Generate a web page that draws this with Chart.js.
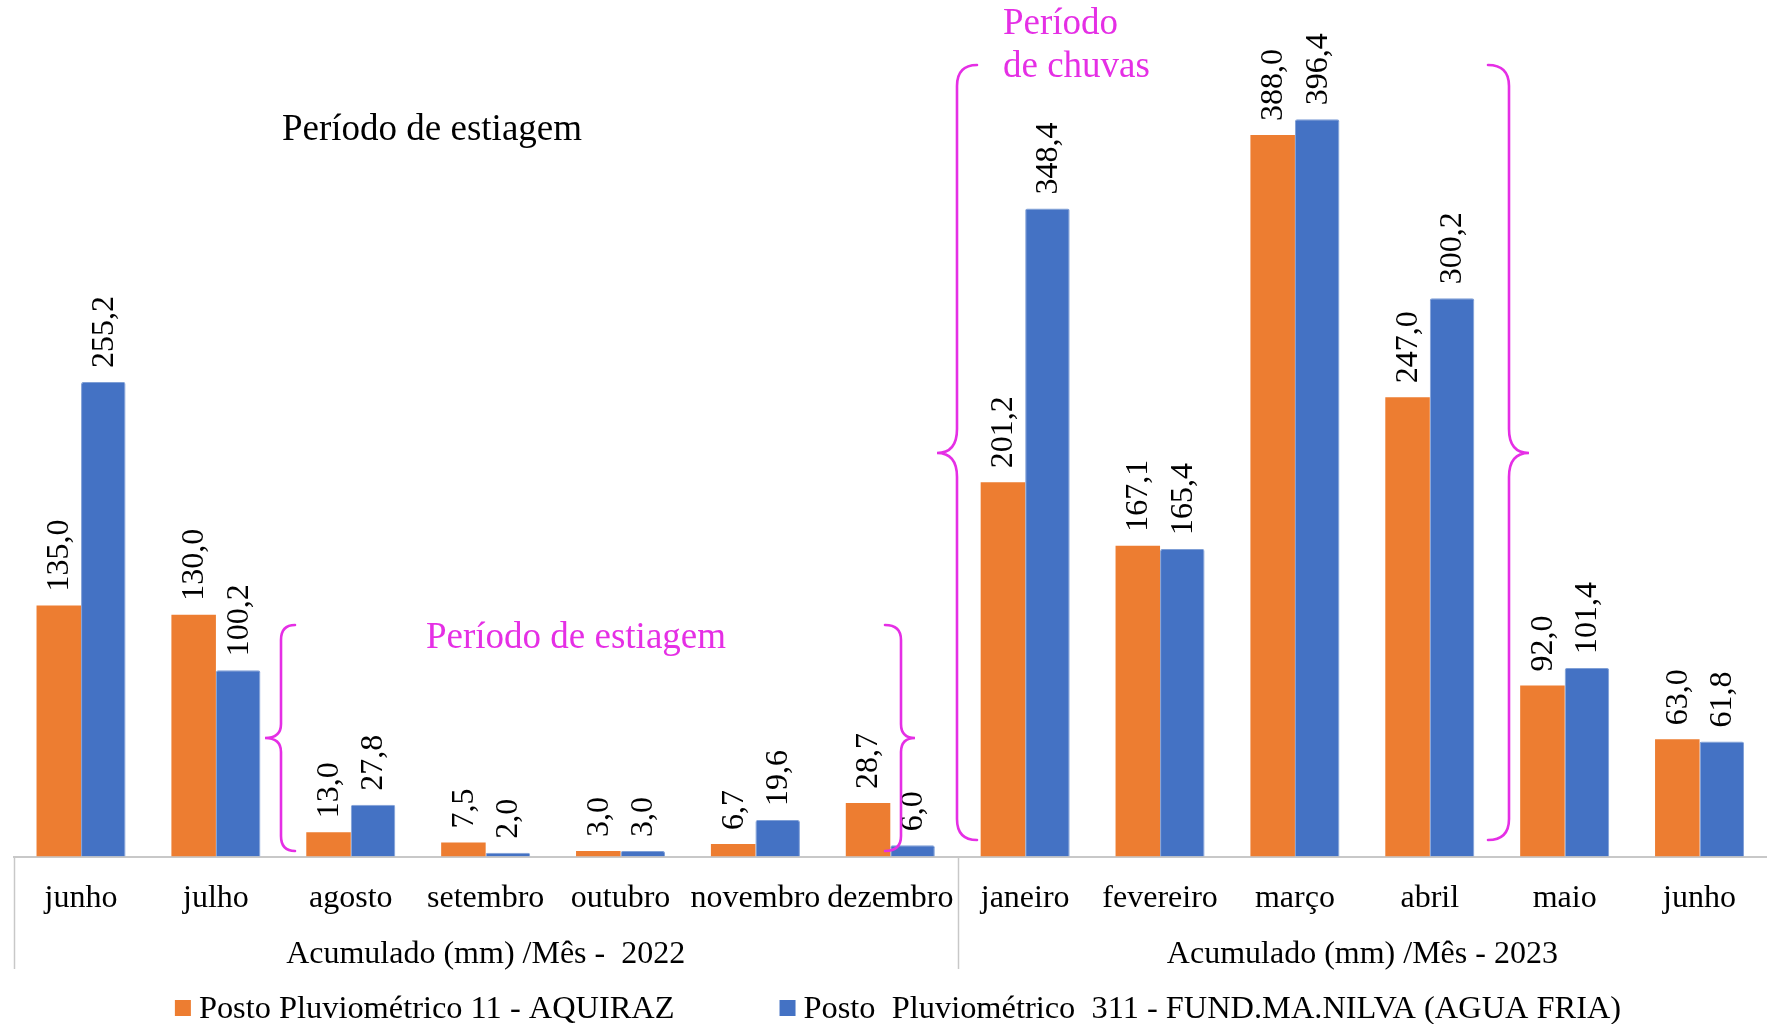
<!DOCTYPE html>
<html>
<head>
<meta charset="utf-8">
<script src="https://cdn.jsdelivr.net/npm/chart.js@4.4.1/dist/chart.umd.min.js"></script>
<style>
  html, body { margin: 0; padding: 0; background: #ffffff; }
  #wrap { width: 1767px; height: 1024px; position: relative; }
</style>
</head>
<body>
<div id="wrap"><canvas id="chart" width="1767" height="1024"></canvas></div>
<script>
// Monthly accumulated rainfall (mm), June 2022 – June 2023
const months = ['junho', 'julho', 'agosto', 'setembro', 'outubro', 'novembro', 'dezembro',
                'janeiro', 'fevereiro', 'março', 'abril', 'maio', 'junho'];
const yearGroups = ['Acumulado (mm) /Mês -  2022', 'Acumulado (mm) /Mês - 2023'];
const yearGroupSizes = [7, 6];
const seriesNames = ['Posto Pluviométrico 11 - AQUIRAZ',
                     'Posto  Pluviométrico  311 - FUND.MA.NILVA (AGUA FRIA)'];
const aquiraz  = [135.0, 130.0, 13.0, 7.5, 3.0, 6.7, 28.7, 201.2, 167.1, 388.0, 247.0, 92.0, 63.0];
const aguaFria = [255.2, 100.2, 27.8, 2.0, 3.0, 19.6, 6.0, 348.4, 165.4, 396.4, 300.2, 101.4, 61.8];

const SERIF = "'Liberation Serif', 'Times New Roman', serif";
const ORANGE = '#ED7D31';
const BLUE = '#4472C4';
const MAGENTA = '#E52FE5';
const AXIS_GREY = '#C8C8C8';

function fmt(v) { return v.toFixed(1).replace('.', ','); }

// Value labels, rotated to read upwards, above each bar
const valueLabels = {
  id: 'valueLabels',
  afterDatasetsDraw(chart) {
    const ctx = chart.ctx;
    ctx.save();
    ctx.fillStyle = '#000';
    ctx.font = '32px ' + SERIF;
    ctx.textAlign = 'left';
    ctx.textBaseline = 'middle';
    chart.data.datasets.forEach((ds, i) => {
      chart.getDatasetMeta(i).data.forEach((bar, j) => {
        ctx.save();
        ctx.translate(bar.x + 1, bar.y - 14);
        ctx.rotate(-Math.PI / 2);
        ctx.fillText(fmt(ds.data[j]), 0, 0);
        ctx.restore();
      });
    });
    ctx.restore();
  }
};

// Curly brace: xEnd = tips of the arms, xV = spine, xTip = middle point
function brace(ctx, xEnd, xV, xTip, yTop, yMid, yBot, r, r2) {
  ctx.beginPath();
  ctx.moveTo(xEnd, yTop);
  ctx.quadraticCurveTo(xV, yTop, xV, yTop + r);
  ctx.lineTo(xV, yMid - r2);
  ctx.quadraticCurveTo(xV, yMid, xTip, yMid);
  ctx.quadraticCurveTo(xV, yMid, xV, yMid + r2);
  ctx.lineTo(xV, yBot - r);
  ctx.quadraticCurveTo(xV, yBot, xEnd, yBot);
  ctx.stroke();
}

// Year grouping row, period notes and the legend
const decorations = {
  id: 'decorations',
  afterDraw(chart) {
    const ctx = chart.ctx;
    const area = chart.chartArea;
    const step = (area.right - area.left) / months.length;
    ctx.save();

    // group separators below the axis
    ctx.strokeStyle = AXIS_GREY;
    ctx.lineWidth = 1.5;
    let idx = 0;
    const bounds = [area.left];
    yearGroupSizes.forEach(n => { idx += n; bounds.push(area.left + idx * step); });
    bounds.slice(0, -1).forEach(bx => {
      ctx.beginPath();
      ctx.moveTo(Math.round(bx) + 0.5, area.bottom);
      ctx.lineTo(Math.round(bx) + 0.5, 969);
      ctx.stroke();
    });

    // group labels
    ctx.fillStyle = '#000';
    ctx.font = '32px ' + SERIF;
    ctx.textAlign = 'center';
    ctx.textBaseline = 'alphabetic';
    yearGroups.forEach((g, k) => {
      const cx = (bounds[k] + Math.min(bounds[k + 1], chart.width)) / 2;
      ctx.fillText(g, cx, 963);
    });

    // period notes
    ctx.textAlign = 'left';
    ctx.font = '37px ' + SERIF;
    ctx.fillStyle = '#000';
    ctx.fillText('Período de estiagem', 282, 140);
    ctx.fillStyle = MAGENTA;
    ctx.fillText('Período de estiagem', 426, 648);
    ctx.fillText('Período', 1003, 34);
    ctx.fillText('de chuvas', 1003, 77);

    ctx.strokeStyle = MAGENTA;
    ctx.lineWidth = 2.6;
    ctx.lineCap = 'round';
    brace(ctx, 295, 281, 265, 625, 738, 851, 15, 14);
    brace(ctx, 885, 901, 915, 625, 738, 851, 15, 14);
    brace(ctx, 977, 957, 937, 65, 453, 840, 21, 24);
    brace(ctx, 1488, 1509, 1529, 65, 453, 840, 21, 24);

    // legend
    ctx.font = '32.4px ' + SERIF;
    ctx.textBaseline = 'alphabetic';
    const colors = chart.data.datasets.map(d => d.backgroundColor);
    const widths = chart.data.datasets.map(d => ctx.measureText(d.label).width);
    const box = 16, gapText = 8, gapItem = 105;
    const total = widths.reduce((s, w) => s + box + gapText + w, 0) + gapItem;
    let lx = 898 - total / 2;
    chart.data.datasets.forEach((d, k) => {
      ctx.fillStyle = colors[k];
      ctx.fillRect(lx, 1000, box, 16);
      ctx.fillStyle = '#000';
      ctx.fillText(d.label, lx + box + gapText, 1018);
      lx += box + gapText + widths[k] + gapItem;
    });

    ctx.restore();
  }
};

new Chart(document.getElementById('chart'), {
  type: 'bar',
  data: {
    labels: months,
    datasets: [
      { label: seriesNames[0], data: aquiraz, backgroundColor: ORANGE, borderWidth: 0 },
      { label: seriesNames[1], data: aguaFria, backgroundColor: BLUE,
        borderColor: '#7F9FD6', borderWidth: 1, borderSkipped: 'bottom',
        borderRadius: { topLeft: 2, topRight: 2 } }
    ]
  },
  options: {
    responsive: false,
    animation: false,
    devicePixelRatio: 1,
    layout: { padding: { left: 13.6, right: -2.3, top: 1, bottom: 0 } },
    datasets: { bar: { categoryPercentage: 0.66, barPercentage: 1.0 } },
    plugins: { legend: { display: false }, tooltip: { enabled: false } },
    scales: {
      y: { display: false, min: 0, max: 460 },
      x: {
        grid: { display: true, drawOnChartArea: false, drawTicks: false, color: 'rgba(0,0,0,0)' },
        border: { display: true, color: AXIS_GREY, width: 2 },
        ticks: {
          color: '#000',
          font: { family: SERIF, size: 32 },
          padding: 23,
          maxRotation: 0,
          autoSkip: false
        },
        afterFit(scale) { scale.height = 167.5; }
      }
    }
  },
  plugins: [valueLabels, decorations]
});
</script>
</body>
</html>
